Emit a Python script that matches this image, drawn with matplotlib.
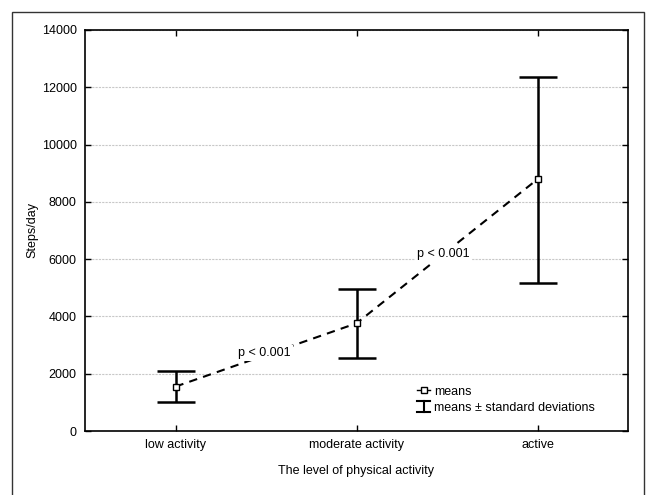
import matplotlib
matplotlib.use("Agg")
import matplotlib.pyplot as plt
from matplotlib.lines import Line2D
from matplotlib.patches import Rectangle
from matplotlib.legend_handler import HandlerBase

plt.rcParams['font.family'] = ['Liberation Sans', 'DejaVu Sans']

categories = ["low activity", "moderate activity", "active"]
means = [1550, 3760, 8790]
sd_upper = [2100, 4950, 12370]
sd_lower = [1010, 2550, 5180]
yticks = [0, 2000, 4000, 6000, 8000, 10000, 12000, 14000]
p_labels = ["p < 0.001", "p < 0.001"]
p_positions = [(0.49, 2720), (1.48, 6180)]

fig = plt.figure(figsize=(6.48, 4.95), dpi=100)
ax = fig.add_axes([85 / 648, 1 - 431 / 495, (628 - 85) / 648, (431 - 30) / 495])

# outer frame around the whole figure
fig.patches.append(Rectangle((12 / 648, -0.05), 632 / 648, 1.05 - 12 / 495,
                             transform=fig.transFigure, fill=False,
                             edgecolor='#333333', linewidth=1.0))

x = list(range(len(categories)))
err_low = [m - lo for m, lo in zip(means, sd_lower)]
err_high = [hi - m for m, hi in zip(means, sd_upper)]

ax.errorbar(x, means, yerr=[err_low, err_high], fmt='none', ecolor='black',
            elinewidth=1.8, capsize=13.5, capthick=1.8, zorder=3)
ax.plot(x, means, linestyle=(0, (4, 3)), color='black', linewidth=1.5, zorder=4)
ax.plot(x, means, linestyle='none', marker='s', markersize=5,
        markerfacecolor='white', markeredgecolor='black', markeredgewidth=1.0,
        zorder=5)

for label, (px, py) in zip(p_labels, p_positions):
    ax.text(px, py, label, ha='center', va='center', fontsize=9, zorder=6,
            bbox=dict(facecolor='white', edgecolor='none', pad=1.5))

ax.set_xlim(-0.5, 2.5)
ax.set_ylim(0, 14000)
ax.set_xticks(x)
ax.set_xticklabels(categories, fontsize=9)
ax.set_yticks(yticks)
ax.set_yticklabels([str(t) for t in yticks], fontsize=9)
ax.tick_params(direction='in', length=4, width=1, top=True, right=True, pad=6)
ax.yaxis.grid(True, color='#c8c8c8', linestyle=(0, (2, 1)), linewidth=0.8)
ax.set_axisbelow(True)
for s in ax.spines.values():
    s.set_linewidth(1.2)

ax.set_xlabel("The level of physical activity", fontsize=9, labelpad=10)
ax.set_ylabel("Steps/day", fontsize=9, labelpad=2)


class IBeamHandler(HandlerBase):
    def create_artists(self, legend, orig_handle, xdescent, ydescent,
                       width, height, fontsize, trans):
        cx = width * 0.5 - xdescent
        y0 = -ydescent - 0.15 * height
        y1 = -ydescent + 1.15 * height
        hw = 4.5
        kw = dict(color='black', linewidth=1.5, transform=trans)
        return [Line2D([cx, cx], [y0, y1], **kw),
                Line2D([cx - hw, cx + hw], [y0, y0], **kw),
                Line2D([cx - hw, cx + hw], [y1, y1], **kw)]


mean_handle = Line2D([], [], color='black', linewidth=1.0, marker='s',
                     markersize=4, markerfacecolor='white',
                     markeredgecolor='black')
sd_handle = object()
ax.legend([mean_handle, sd_handle], ["means", "means \u00b1 standard deviations"],
          handler_map={sd_handle: IBeamHandler()},
          loc='lower left', bbox_to_anchor=(0.612, 0.042), frameon=False,
          fontsize=9, handlelength=1.0, handletextpad=0.35, labelspacing=0.35,
          borderpad=0, borderaxespad=0)

fig.savefig("out.png", dpi=100)
